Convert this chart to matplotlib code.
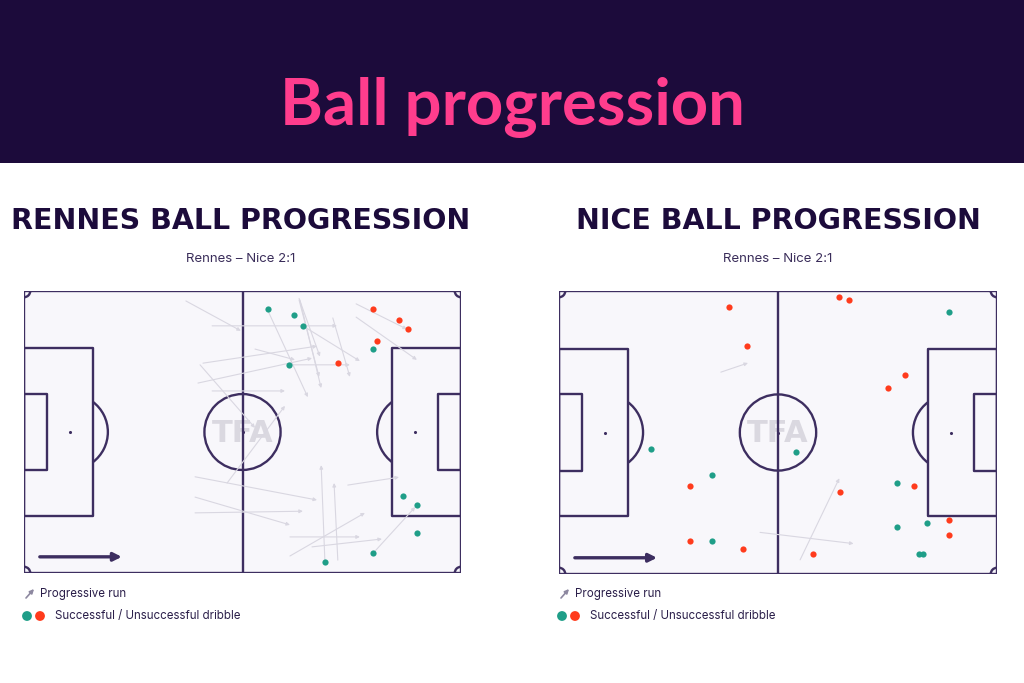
import matplotlib
matplotlib.use('Agg')
import matplotlib.pyplot as plt
from matplotlib.patches import Rectangle, Circle, Arc

# colours
DARK = '#1c0b3b'
PINK = '#ff3d8d'
LINE = '#3d2e60'
PITCH_BG = '#f8f7fb'
RUN = '#d9d7e1'
GREEN = '#1f9e88'
RED = '#ff3b1c'

# pitch is 105 x 68, y measured from the top touchline
# Rennes progressive runs: (x_start, y_start, x_end, y_end)
rennes_runs = [
    (38.9, 2.4, 52.1, 9.6),
    (45.2, 8.4, 75.2, 8.4),
    (58.4, 4.3, 68.2, 25.6),
    (66.1, 1.8, 71.1, 15.8),
    (66.3, 2.2, 71.4, 23.4),
    (66.1, 2.2, 70.9, 20.7),
    (67.0, 8.4, 80.7, 16.9),
    (74.2, 6.5, 78.3, 20.7),
    (79.8, 3.1, 92.0, 9.2),
    (79.8, 6.3, 94.4, 16.6),
    (43.0, 17.4, 70.4, 13.3),
    (41.8, 22.2, 69.2, 16.2),
    (63.7, 17.8, 78.3, 17.8),
    (45.2, 24.1, 62.7, 24.1),
    (48.8, 46.3, 62.7, 27.7),
    (42.3, 17.8, 55.5, 33.0),
    (55.5, 14.0, 65.1, 16.6),
    (41.1, 44.8, 70.4, 50.4),
    (41.1, 53.5, 67.0, 53.1),
    (41.1, 49.7, 63.9, 56.4),
    (72.3, 65.3, 71.4, 42.0),
    (75.4, 64.9, 74.5, 46.3),
    (63.9, 59.3, 80.7, 59.3),
    (63.9, 63.9, 81.9, 53.5),
    (69.2, 61.7, 86.0, 59.8),
    (77.8, 46.8, 90.1, 44.9),
    (83.9, 63.2, 94.0, 52.1),
]
rennes_ok_x = [58.6, 64.9, 67.0, 63.7, 83.9, 91.1, 94.4, 94.4, 83.9, 72.3]
rennes_ok_y = [4.3, 5.8, 8.5, 17.9, 13.9, 49.4, 51.5, 58.4, 63.2, 65.3]
rennes_fail_x = [83.9, 90.1, 92.3, 84.8, 75.4]
rennes_fail_y = [4.3, 7.1, 9.2, 12.0, 17.4]

# Nice
nice_runs = [
    (38.8, 19.5, 45.3, 17.3),
    (57.8, 64.6, 67.2, 45.0),
    (48.2, 58.0, 70.6, 60.7),
]
nice_ok_x = [93.6, 22.0, 36.7, 36.7, 56.8, 81.1, 88.3, 81.1, 86.3, 87.2]
nice_ok_y = [5.0, 37.9, 44.1, 60.0, 38.6, 46.1, 55.8, 56.6, 63.3, 63.3]
nice_fail_x = [40.8, 45.1, 67.2, 69.5, 83.0, 78.9, 31.4, 31.4, 44.2, 67.3, 85.2, 93.6, 93.6, 60.9]
nice_fail_y = [3.8, 13.3, 1.5, 2.2, 20.2, 23.4, 46.8, 60.0, 62.0, 48.3, 46.8, 55.0, 58.6, 63.3]

panel_titles = ['RENNES BALL PROGRESSION', 'NICE BALL PROGRESSION']
match_label = 'Rennes – Nice 2:1'


def draw_pitch(ax):
    lw = 1.7
    kw = dict(fill=False, ec=LINE, lw=lw, joinstyle='round', zorder=2)
    ax.add_patch(Rectangle((0, 0), 105, 68, fc=PITCH_BG, ec='none', zorder=0))
    ax.add_patch(Rectangle((0, 0), 105, 68, **kw))
    ax.plot([52.5, 52.5], [0, 68], color=LINE, lw=lw, zorder=2)
    ax.add_patch(Circle((52.5, 34), 9.15, **kw))
    ax.add_patch(Rectangle((0, 13.84), 16.5, 40.32, **kw))
    ax.add_patch(Rectangle((88.5, 13.84), 16.5, 40.32, **kw))
    ax.add_patch(Rectangle((0, 24.84), 5.5, 18.32, **kw))
    ax.add_patch(Rectangle((99.5, 24.84), 5.5, 18.32, **kw))
    ax.add_patch(Arc((11, 34), 18.3, 18.3, theta1=-53.1, theta2=53.1, ec=LINE, lw=lw, zorder=2))
    ax.add_patch(Arc((94, 34), 18.3, 18.3, theta1=126.9, theta2=233.1, ec=LINE, lw=lw, zorder=2))
    for cx, cy, t1 in [(0, 0, 0), (105, 0, 90), (105, 68, 180), (0, 68, 270)]:
        ax.add_patch(Arc((cx, cy), 3, 3, theta1=t1, theta2=t1 + 90, ec=LINE, lw=lw, zorder=2))
    ax.scatter([11, 94, 52.5], [34, 34, 34], s=1.5, color=LINE, zorder=2)
    ax.text(52.5, 34.3, 'TFA', ha='center', va='center', fontsize=22,
            fontweight='bold', color='#d3d1da', alpha=0.8, zorder=1)
    # direction of play
    ax.annotate('', xy=(23.5, 64.1), xytext=(3.8, 64.1),
                arrowprops=dict(arrowstyle='-|>', color=LINE, lw=2.4,
                                mutation_scale=12, shrinkA=0, shrinkB=0), zorder=3)
    ax.set_xlim(0, 105)
    ax.set_ylim(68, 0)
    ax.axis('off')


def draw_panel(ax, runs, ok_x, ok_y, fail_x, fail_y):
    draw_pitch(ax)
    for x0, y0, x1, y1 in runs:
        ax.annotate('', xy=(x1, y1), xytext=(x0, y0),
                    arrowprops=dict(arrowstyle='-|>', color=RUN, lw=0.8,
                                    mutation_scale=5, shrinkA=0, shrinkB=0),
                    zorder=3)
    ax.scatter(ok_x, ok_y, s=20, color=GREEN, zorder=4, linewidths=0)
    ax.scatter(fail_x, fail_y, s=20, color=RED, zorder=4, linewidths=0)


W, H = 1024, 683
fig = plt.figure(figsize=(W / 100, H / 100), dpi=100, facecolor='white')

# overlay in pixel coordinates for header, titles and legends
bg = fig.add_axes([0, 0, 1, 1])
bg.set_xlim(0, W)
bg.set_ylim(H, 0)
bg.axis('off')
bg.add_patch(Rectangle((0, 0), W, 163, fc=DARK, ec='none'))
bg.text(512, 125, 'Ball progression', ha='center', va='baseline', fontsize=47,
        fontweight='bold', color=PINK, family=['Lato', 'DejaVu Sans'])

for cx, title in zip([241, 778], panel_titles):
    bg.text(cx, 229, title, ha='center', va='baseline', fontsize=20.5,
            fontweight='heavy', color=DARK, family='DejaVu Sans')
    bg.text(cx, 262, match_label, ha='center', va='baseline', fontsize=9.5,
            color='#3a2d5a', family=['Inter', 'DejaVu Sans'])

for lx in [24, 559]:
    bg.annotate('', xy=(lx + 10, 589), xytext=(lx + 2, 598),
                arrowprops=dict(arrowstyle='-|>', color='#8d88a0', lw=1.2,
                                mutation_scale=6, shrinkA=0, shrinkB=0))
    bg.text(lx + 16, 594, 'Progressive run', ha='left', va='center', fontsize=8.3,
            color='#2b1f4a', family=['Inter', 'DejaVu Sans'])
    bg.scatter([lx + 3, lx + 16], [616, 616], s=50, color=[GREEN, RED], linewidths=0)
    bg.text(lx + 31, 616, 'Successful / Unsuccessful dribble', ha='left', va='center',
            fontsize=8.3, color='#2b1f4a', family=['Inter', 'DejaVu Sans'])

ax1 = fig.add_axes([24 / W, (H - 573) / H, 437 / W, 282 / H])
draw_panel(ax1, rennes_runs, rennes_ok_x, rennes_ok_y, rennes_fail_x, rennes_fail_y)

ax2 = fig.add_axes([559 / W, (H - 574) / H, 438 / W, 283 / H])
draw_panel(ax2, nice_runs, nice_ok_x, nice_ok_y, nice_fail_x, nice_fail_y)

fig.savefig('out.png', dpi=100, facecolor='white')
